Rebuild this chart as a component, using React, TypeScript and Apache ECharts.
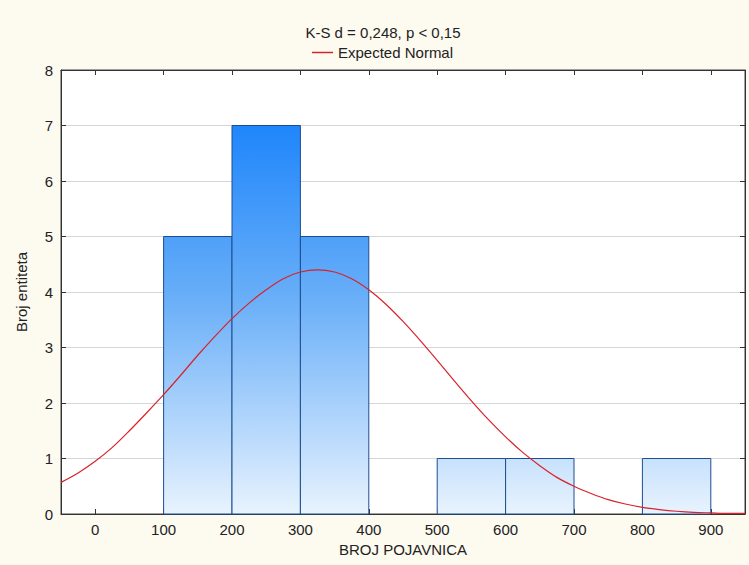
import React, { useEffect, useRef } from "react";
import * as echarts from "echarts";

const binStarts = [100, 200, 300, 500, 600, 800];
const binEnds = [200, 300, 400, 600, 700, 900];
const binCounts = [5, 7, 5, 1, 1, 1];

const curveX = [-50, -25, 0, 25, 50, 75, 100, 125, 150, 175, 200, 225, 250, 275, 300, 325, 350, 375, 400, 425, 450, 475, 500, 525, 550, 575, 600, 625, 650, 675, 700, 725, 750, 775, 800, 825, 850, 875, 900, 925, 950];
const curveY = [0.57, 0.74, 0.95, 1.2, 1.5, 1.82, 2.15, 2.5, 2.86, 3.2, 3.52, 3.8, 4.04, 4.24, 4.36, 4.4, 4.36, 4.24, 4.04, 3.78, 3.47, 3.13, 2.77, 2.4, 2.04, 1.7, 1.39, 1.11, 0.87, 0.66, 0.5, 0.37, 0.26, 0.18, 0.12, 0.08, 0.05, 0.03, 0.02, 0.01, 0.01];

const xTicks = [0, 100, 200, 300, 400, 500, 600, 700, 800, 900];

const titleText = "K-S d = 0,248, p < 0,15";
const legendName = "Expected Normal";
const xName = "BROJ POJAVNICA";
const yName = "Broj entiteta";

export default function App() {
  const ref = useRef<HTMLDivElement>(null);
  useEffect(() => {
    if (!ref.current) return;
    const chart = echarts.init(ref.current, undefined, { renderer: "svg" });
    const font = "Liberation Sans, Arial, sans-serif";
    const barData = binStarts.map((s, i) => [s, binEnds[i], binCounts[i]]);
    const lineData = curveX.map((x, i) => [x, curveY[i]]);
    chart.setOption({
      animation: false,
      backgroundColor: "#fdfaf0",
      textStyle: { fontFamily: font },
      graphic: [
        {
          type: "text",
          x: 383,
          y: 32,
          style: {
            text: titleText,
            fontSize: 15,
            fontFamily: font,
            fill: "#222",
            textAlign: "center",
            textVerticalAlign: "middle",
          },
        },
      ],
      legend: {
        data: [{ name: legendName, icon: "rect" }],
        left: 307,
        top: 40,
        itemWidth: 21,
        itemHeight: 1.5,
        itemGap: 4,
        textStyle: { fontSize: 15, color: "#222", fontFamily: font },
      },
      grid: {
        left: 61,
        right: 4,
        top: 70,
        bottom: 51,
        show: true,
        backgroundColor: "#ffffff",
        borderColor: "#444",
        borderWidth: 1,
      },
      xAxis: [
        {
          type: "value",
          min: -50,
          max: 950,
          splitNumber: 10,
          name: xName,
          nameLocation: "middle",
          nameGap: 28,
          nameTextStyle: { fontSize: 15, color: "#222", fontFamily: font },
          axisLine: { show: true, onZero: false, lineStyle: { color: "#333" } },
          axisTick: { show: true, inside: true, length: 5, lineStyle: { color: "#333" }, customValues: xTicks },
          axisLabel: { fontSize: 15, color: "#222", margin: 8, customValues: xTicks },
          splitLine: { show: false },
        },
        {
          type: "value",
          position: "top",
          min: -50,
          max: 950,
          splitNumber: 10,
          axisLine: { show: true, onZero: false, lineStyle: { color: "#333" } },
          axisTick: { show: true, inside: true, length: 5, lineStyle: { color: "#333" }, customValues: xTicks },
          axisLabel: { show: false },
          splitLine: { show: false },
        },
      ],
      yAxis: [
        {
          type: "value",
          min: 0,
          max: 8,
          interval: 1,
          name: yName,
          nameLocation: "middle",
          nameGap: 32,
          nameTextStyle: { fontSize: 15, color: "#222", fontFamily: font },
          axisLine: { show: true, onZero: false, lineStyle: { color: "#333" } },
          axisTick: { show: true, inside: true, length: 5, lineStyle: { color: "#333" } },
          axisLabel: { fontSize: 15, color: "#222", margin: 8 },
          splitLine: { show: true, lineStyle: { color: "#d6d6d6", width: 1 } },
        },
        {
          type: "value",
          position: "right",
          min: 0,
          max: 8,
          interval: 1,
          axisLine: { show: true, onZero: false, lineStyle: { color: "#333" } },
          axisTick: { show: true, inside: true, length: 5, lineStyle: { color: "#333" } },
          axisLabel: { show: false },
          splitLine: { show: false },
        },
      ],
      series: [
        {
          type: "custom",
          name: "hist",
          xAxisIndex: 0,
          yAxisIndex: 0,
          encode: { x: [0, 1], y: 2 },
          data: barData,
          renderItem: (params: any, api: any) => {
            const x0 = api.value(0);
            const x1 = api.value(1);
            const c = api.value(2);
            const p0 = api.coord([x0, c]);
            const p1 = api.coord([x1, 0]);
            const top = api.coord([0, 7])[1];
            const bot = api.coord([0, 0])[1];
            return {
              type: "rect",
              shape: { x: p0[0], y: p0[1], width: p1[0] - p0[0], height: p1[1] - p0[1] },
              style: {
                fill: new echarts.graphic.LinearGradient(
                  0,
                  top,
                  0,
                  bot,
                  [
                    { offset: 0, color: "#1f86fb" },
                    { offset: 0.45, color: "#6aaff8" },
                    { offset: 1, color: "#e8f3fe" },
                  ],
                  true
                ),
                stroke: "#1d4e8f",
                lineWidth: 1,
              },
            };
          },
          z: 2,
        },
        {
          type: "line",
          name: legendName,
          data: lineData,
          smooth: 0.3,
          symbol: "none",
          lineStyle: { color: "#d8222a", width: 1.2 },
          itemStyle: { color: "#d8222a" },
          z: 3,
        },
      ],
    });
    return () => chart.dispose();
  }, []);
  return <div ref={ref} style={{ position: "fixed", left: 0, top: 0, width: 749, height: 565 }} />;
}
